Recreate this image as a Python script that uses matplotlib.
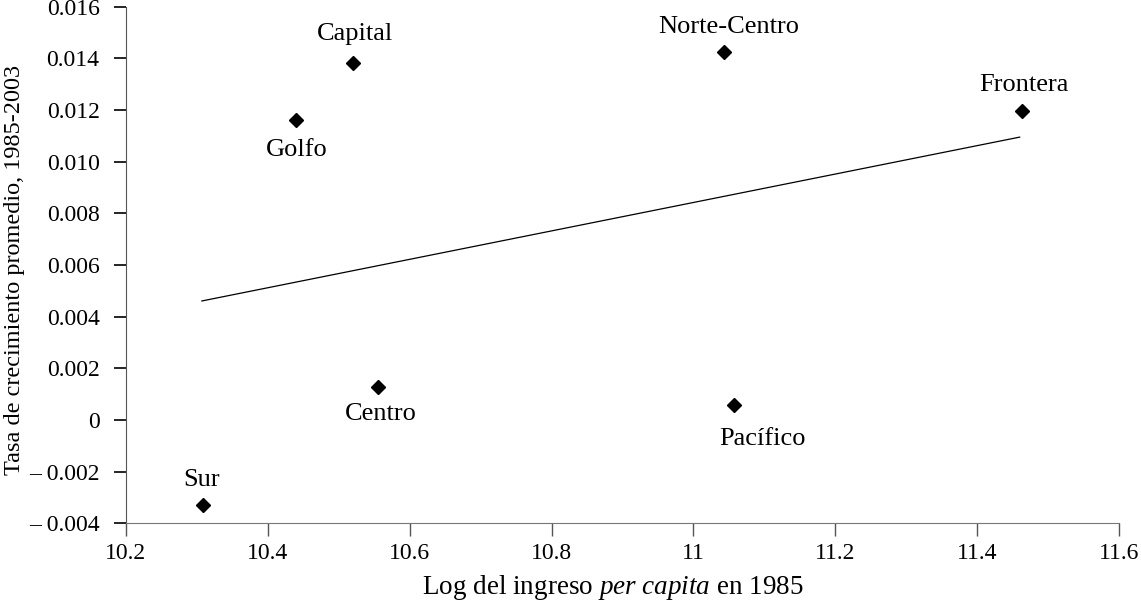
import matplotlib.pyplot as plt
from matplotlib.ticker import FuncFormatter

# regions and their values (log income 1985, avg growth 1985-2003)
regions = ["Sur", "Golfo", "Capital", "Centro", "Norte-Centro", "Pacífico", "Frontera"]
log_income = [10.309, 10.440, 10.520, 10.555, 11.043, 11.057, 11.463]
growth = [-0.00328, 0.01161, 0.01381, 0.00128, 0.01424, 0.00058, 0.01196]

# fitted trend line endpoints
trend_x = [10.307, 11.460]
trend_y = [0.00461, 0.01095]

# label placement: (dx px, dy px) relative to point
label_offsets = {
    "Sur": (-2, 25),
    "Golfo": (1, -30),
    "Capital": (2, 29),
    "Centro": (3, -27),
    "Norte-Centro": (5, 25),
    "Pacífico": (29, -34),
    "Frontera": (2, 26),
}

plt.rcParams["font.family"] = ["Liberation Serif", "DejaVu Serif"]
plt.rcParams["mathtext.fontset"] = "custom"
plt.rcParams["mathtext.rm"] = "Liberation Serif"
plt.rcParams["mathtext.it"] = "Liberation Serif:italic"

fig = plt.figure(figsize=(11.41, 6.01), dpi=100)
ax = fig.add_axes([0.1104, 0.129, 0.8703, 0.860])

ax.plot(trend_x, trend_y, color="black", linewidth=0.9)
ax.plot(log_income, growth, linestyle="none", marker="D", markersize=7,
        color="black", zorder=3)

for name, x, y in zip(regions, log_income, growth):
    dx, dy = label_offsets[name]
    ax.annotate(name, (x, y), xytext=(dx * 0.72, dy * 0.72), textcoords="offset points",
                ha="center", va="center", fontsize=19)

ax.set_xlim(10.2, 11.6)
ax.set_ylim(-0.004, 0.016)
ax.set_xticks([10.2, 10.4, 10.6, 10.8, 11.0, 11.2, 11.4, 11.6])
ax.set_yticks([-0.004, -0.002, 0, 0.002, 0.004, 0.006, 0.008, 0.010, 0.012, 0.014, 0.016])


def fmt_x(v, pos):
    s = f"{v:.1f}"
    return "11" if s == "11.0" else s


def fmt_y(v, pos):
    if abs(v) < 1e-9:
        return "0"
    if v < 0:
        return f"\u2013 {abs(v):.3f}"
    return f"{v:.3f}"


ax.xaxis.set_major_formatter(FuncFormatter(fmt_x))
ax.yaxis.set_major_formatter(FuncFormatter(fmt_y))

for side in ["top", "right"]:
    ax.spines[side].set_visible(False)
ax.spines["left"].set_color("#555555")
ax.spines["bottom"].set_color("#777777")
ax.tick_params(axis="y", direction="out", length=9, width=1.2, color="black",
               labelsize=17, pad=10)
ax.tick_params(axis="x", direction="out", length=9, width=1.0, color="#555555",
               labelsize=17, pad=5)

ax.set_xlabel("Log del ingreso $\\it{per\\ capita}$ en 1985", fontsize=19.5)
ax.set_ylabel("Tasa de crecimiento promedio, 1985-2003", fontsize=17.5)
ax.xaxis.set_label_coords(0.49, -0.095)
ax.yaxis.set_label_coords(-0.102, 0.49)

fig.savefig("out.png", dpi=100)
